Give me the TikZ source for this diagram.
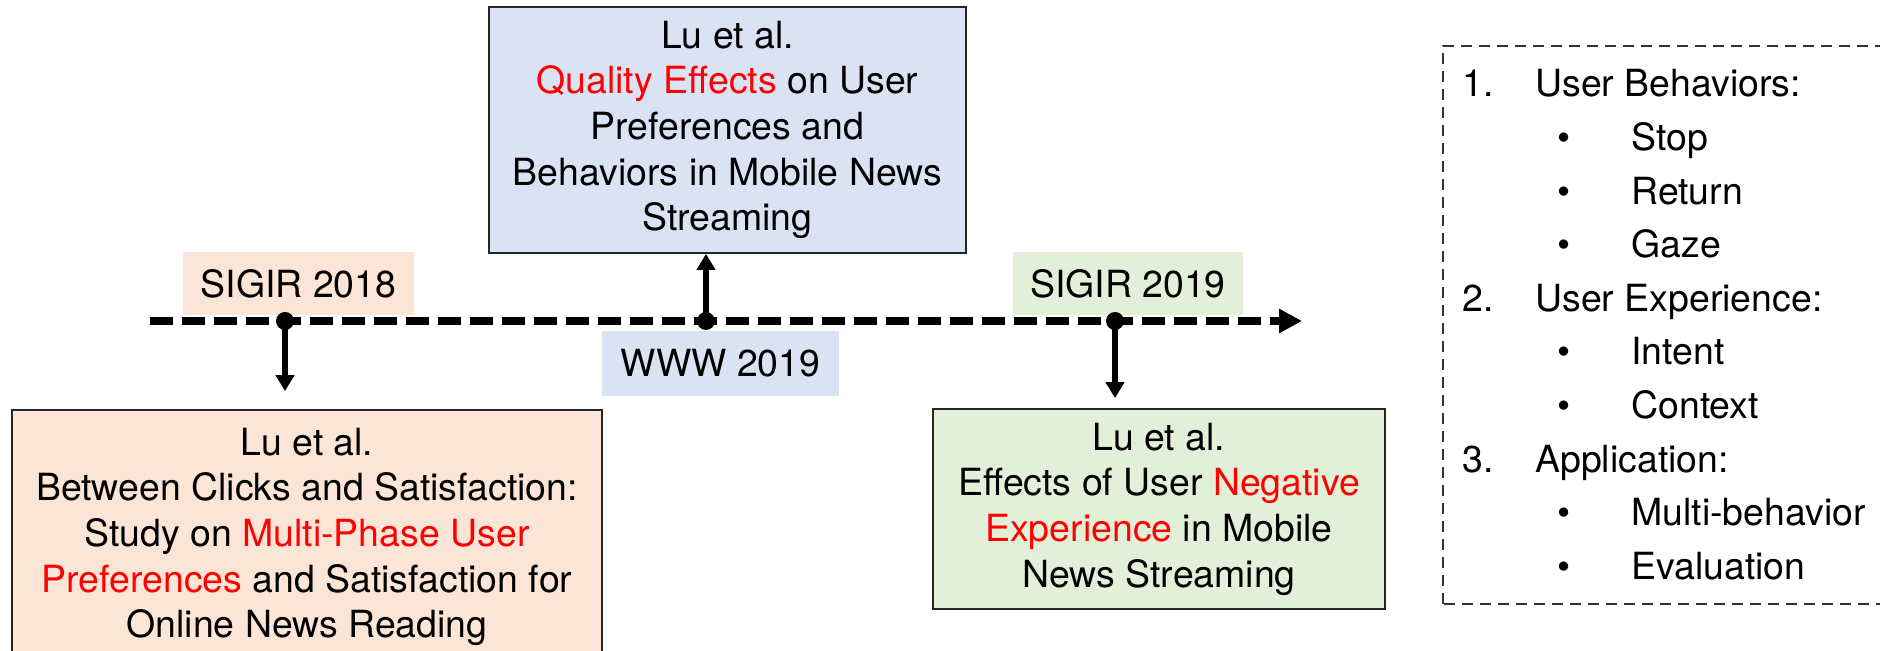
\documentclass[tikz,border=0pt]{standalone}
\usepackage{fontspec}
\setmainfont{TeX Gyre Heros}
\usetikzlibrary{arrows.meta,positioning}
\definecolor{peach}{HTML}{FBE5D6}
\definecolor{paleblue}{HTML}{DAE3F3}
\definecolor{palegreen}{HTML}{E2F0D9}
\definecolor{hilite}{HTML}{FF0000}
\newcommand{\emred}[1]{\textcolor{hilite}{#1}}
\tikzset{
    paper/.style={draw=black!85, line width=1pt, align=center, inner sep=0pt,
        font=\fontsize{21.3}{26}\selectfont},
    venue/.style={inner sep=0pt, minimum height=1.26cm, font=\fontsize{21.3}{26}\selectfont},
    legtxt/.style={anchor=base west, inner sep=0pt, font=\fontsize{21.3}{26}\selectfont},
    event/.style={line width=3.2pt, -{Triangle[length=0.32cm,width=0.36cm]}},
}
\begin{document}
\begin{tikzpicture}
    \useasboundingbox (0,0) rectangle (37.6,13.02);
    %% venues
    \node[venue, fill=peach, minimum width=4.62cm] (sigir18) at (5.97,7.35) {SIGIR 2018};
    \node[venue, fill=paleblue, minimum width=4.74cm, minimum height=1.3cm] (www19) at (14.41,5.75) {WWW 2019};
    \node[venue, fill=palegreen, minimum width=4.6cm] (sigir19) at (22.56,7.35) {SIGIR 2019};
    %% papers
    \node[paper, fill=peach, minimum width=11.8cm, minimum height=5.08cm] (clicks) at (6.14,2.28)
        {Lu et al.\\ Between Clicks and Satisfaction:\\ Study on \emred{Multi-Phase User}\\
         \emred{Preferences} and Satisfaction for\\ Online News Reading};
    \node[paper, fill=paleblue, minimum width=9.54cm, minimum height=4.92cm] (quality) at (14.55,10.42)
        {Lu et al.\\ \emred{Quality Effects} on User\\ Preferences and\\
         Behaviors in Mobile News\\ Streaming};
    \node[paper, fill=palegreen, minimum width=9.04cm, minimum height=4cm] (negative) at (23.18,2.84)
        {Lu et al.\\ Effects of User \emred{Negative}\\ \emred{Experience} in Mobile\\ News Streaming};
    %% timeline
    \coordinate (tstart) at (3.0,6.6);
    \coordinate (tend) at (26.04,6.6);
    \draw[line width=4.7pt, dash pattern=on 0.46cm off 0.18cm,
        -{Triangle[length=0.46cm,width=0.46cm]}] (tstart) -- (tend);
    \coordinate (d1) at (5.7,6.6);
    \coordinate (d2) at (14.12,6.6);
    \coordinate (d3) at (22.3,6.6);
    \foreach \d in {d1,d2,d3}
        \fill (\d) circle (0.18);
    \draw[event, shorten >=0.36cm] (d1) -- (d1 |- clicks.north);
    \draw[event] (d2) -- (d2 |- quality.south);
    \draw[event, shorten >=0.2cm] (d3) -- (d3 |- negative.north);
    %% legend
    \draw[black!80, line width=0.6pt, dash pattern=on 0.22cm off 0.14cm] (28.86,0.94) rectangle (37.8,12.1);
    \foreach \num/\head/\row in {1./User Behaviors:/0, 2./User Experience:/4, 3./Application:/7} {
        \node[legtxt] (num\row) at (29.24,11.08-1.072*\row) {\num};
        \node[legtxt] (head\row) at (30.7,11.08-1.072*\row) {\head};
    }
    \foreach \sub/\row in {Stop/1, Return/2, Gaze/3, Intent/5, Context/6, Multi-behavior/8, Evaluation/9} {
        \node[legtxt, anchor=base] (dot\row) at (31.28,11.08-1.072*\row) {\textbullet};
        \node[legtxt] (sub\row) at (32.62,11.08-1.072*\row) {\sub};
    }
\end{tikzpicture}
\end{document}
